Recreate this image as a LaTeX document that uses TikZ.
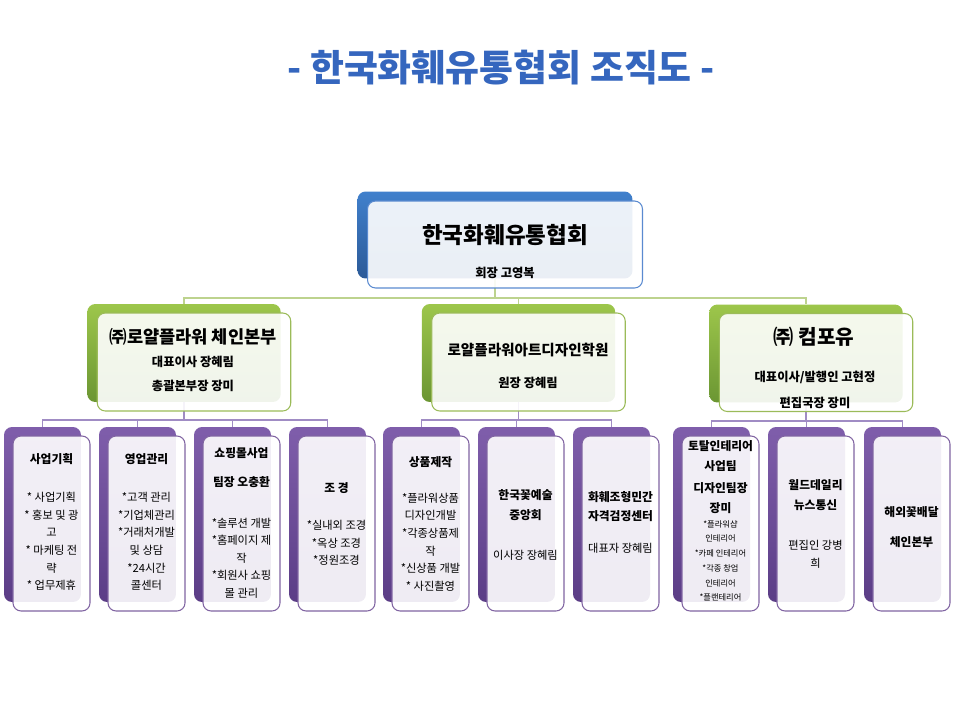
\documentclass[tikz,border=0pt]{standalone}
\usepackage{fontspec}
\setmainfont{Noto Sans CJK KR}
\usetikzlibrary{backgrounds}

\definecolor{titleblue}{HTML}{3566BE}
\definecolor{bluetop}{HTML}{4080CC}
\definecolor{bluebot}{HTML}{2C5A98}
\definecolor{blueline}{HTML}{5A8AD0}
\definecolor{greentop}{HTML}{9DC64B}
\definecolor{greenbot}{HTML}{6B9633}
\definecolor{greenline}{HTML}{9BBB59}
\definecolor{greenlink}{HTML}{BDD38E}
\definecolor{purpletop}{HTML}{7F5EAB}
\definecolor{purplebot}{HTML}{5B3D86}
\definecolor{purpleline}{HTML}{8064A2}
\definecolor{purplelink}{HTML}{A08CC4}

\begin{document}
\begin{tikzpicture}[x=0.02cm, y=-0.02cm,
  backbox/.style={rounded corners=0.16cm, inner sep=0pt},
  frontbox/.style={rounded corners=0.16cm, inner sep=0pt, fill=white, fill opacity=0.9, line width=0.6pt},
  topsize/.style={minimum width=5.5cm, minimum height=1.74cm},
  midsize/.style={minimum width=3.87cm, minimum height=1.96cm},
  unitsize/.style={minimum width=1.54cm, minimum height=3.5cm},
  blueback/.style={backbox, top color=bluetop, bottom color=bluebot},
  bluefront/.style={frontbox, draw=blueline},
  greenback/.style={backbox, top color=greentop, bottom color=greenbot},
  greenfront/.style={frontbox, draw=greenline},
  purpleback/.style={backbox, top color=purpletop, bottom color=purplebot},
  purplefront/.style={frontbox, draw=purpleline},
  greenwire/.style={draw=greenlink, line width=1pt},
  purplewire/.style={draw=purplelink, line width=1pt},
  txt/.style={inner sep=0pt, align=center, text=black},
  headtitle/.style={txt, font=\bfseries\fontsize{21}{24}\selectfont, text=titleblue},
  toptitle/.style={txt, font=\bfseries\fontsize{12.8}{15}\selectfont},
  midinfo/.style={txt, font=\bfseries\fontsize{7}{14}\selectfont},
  unittitle/.style={txt, font=\bfseries\fontsize{6.7}{11.3}\selectfont},
  unitbody/.style={txt, font=\fontsize{6.4}{10}\selectfont},
  unitsmall/.style={txt, font=\fontsize{4.7}{8.4}\selectfont}
]
  \useasboundingbox (0,0) rectangle (960,720);

  % Heading
  \node[headtitle] (heading) at (501,68) {- 한국화훼유통협회 조직도 -};

  % Top box
  \node[blueback, topsize] (topback) at (495,235) {};
  \node[bluefront, topsize] (top) at (505,244.5) {};
  \node[toptitle] (toptext) at (505,235) {한국화훼유통협회};
  \node[midinfo] (topinfo) at (505,273) {회장 고영복};

  % Second row
  \node[greenback, midsize] (l2aback) at (184,353) {};
  \node[greenfront, midsize] (l2a) at (194,362) {};
  \node[greenback, midsize] (l2bback) at (518.5,353) {};
  \node[greenfront, midsize] (l2b) at (528.5,362) {};
  \node[greenback, midsize] (l2cback) at (806,353.5) {};
  \node[greenfront, midsize] (l2c) at (816,362.5) {};

  \node[txt, font=\bfseries\fontsize{10}{12}\selectfont] (l2atitle) at (193,337) {㈜로얄플라워 체인본부};
  \node[midinfo] (l2ainfo) at (193,374) {대표이사 장혜림\\총괄본부장 장미};
  \node[txt, font=\bfseries\fontsize{8.3}{10}\selectfont] (l2btitle) at (528,350) {로얄플라워아트디자인학원};
  \node[midinfo] (l2binfo) at (528,383) {원장 장혜림};
  \node[txt, font=\bfseries\fontsize{11.5}{13}\selectfont] (l2ctitle) at (814,337) {㈜ 컴포유};
  \node[midinfo, font=\bfseries\fontsize{7}{14.7}\selectfont] (l2cinfo) at (815,390) {대표이사/발행인 고현정\\편집국장 장미};

  % Third row
  \foreach \i/\xx in {1/42.5, 2/137.5, 3/232.5, 4/327.5, 5/421.5, 6/516.5, 7/611.5, 8/711.5, 9/806.5, 10/902.5} {
    \node[purpleback, unitsize] (back\i) at (\xx,514.5) {};
    \node[purplefront, unitsize] (unit\i) at (\xx+9,523.5) {};
  }

  \node[unittitle] (t1) at (51.5,459) {사업기획};
  \node[unitbody] (b1) at (51.5,541.5) {* 사업기획\\* 홍보 및 광\\고\\* 마케팅 전\\략\\* 업무제휴};
  \node[unittitle] (t2) at (146.5,459) {영업관리};
  \node[unitbody] (b2) at (146.5,541.5) {*고객 관리\\*기업체관리\\*거래처개발\\및 상담\\*24시간\\콜센터};
  \node[unittitle] (t3) at (241.5,453) {쇼핑몰사업};
  \node[unittitle] (s3) at (241.5,482) {팀장 오충환};
  \node[unitbody] (b3) at (241.5,558) {*솔루션 개발\\*홈페이지 제\\작\\*회원사 쇼핑\\몰 관리};
  \node[unittitle] (t4) at (336.5,488) {조 경};
  \node[unitbody] (b4) at (336.5,543) {*실내외 조경\\*옥상 조경\\*정원조경};
  \node[unittitle] (t5) at (430.5,462) {상품제작};
  \node[unitbody] (b5) at (430.5,542) {*플라워상품\\디자인개발\\*각종상품제\\작\\*신상품 개발\\* 사진촬영};
  \node[unittitle] (t6) at (525.5,505) {한국꽃예술\\중앙회};
  \node[unitbody] (b6) at (525.5,555) {이사장 장혜림};
  \node[unittitle] (t7) at (620.5,506.5) {화훼조형민간\\자격검정센터};
  \node[unitbody] (b7) at (620.5,548) {대표자 장혜림};
  \node[unittitle] (t8) at (720.5,456) {토탈인테리어\\사업팀};
  \node[unittitle] (s8) at (720.5,498.5) {디자인팀장\\장미};
  \node[unitsmall] (b8) at (720.5,561) {*플라워샵\\인테리어\\*카페 인테리어\\*각종 창업\\인테리어\\*플랜테리어};
  \node[unittitle] (t9) at (815.5,495) {월드데일리\\뉴스통신};
  \node[unitbody] (b9) at (815.5,554) {편집인 강병\\희};
  \node[unittitle] (t10) at (911.5,527) {해외꽃배달\\[5.7pt]체인본부};

  % Connectors
  \begin{pgfonlayer}{background}
    \foreach \sub in {l2aback, l2bback, l2cback}
      \draw[greenwire] (topback.south) -- ++(0,19) -| (\sub.north);
    \foreach \i in {1,...,4}
      \draw[purplewire] (l2aback.south) -- ++(0,18) -| (back\i.north);
    \foreach \i in {5,6,7}
      \draw[purplewire] (l2bback.south) -- ++(0,18) -| (back\i.north);
    \foreach \i in {8,9,10}
      \draw[purplewire] (l2cback.south) -- ++(0,18) -| (back\i.north);
  \end{pgfonlayer}
\end{tikzpicture}
\end{document}
